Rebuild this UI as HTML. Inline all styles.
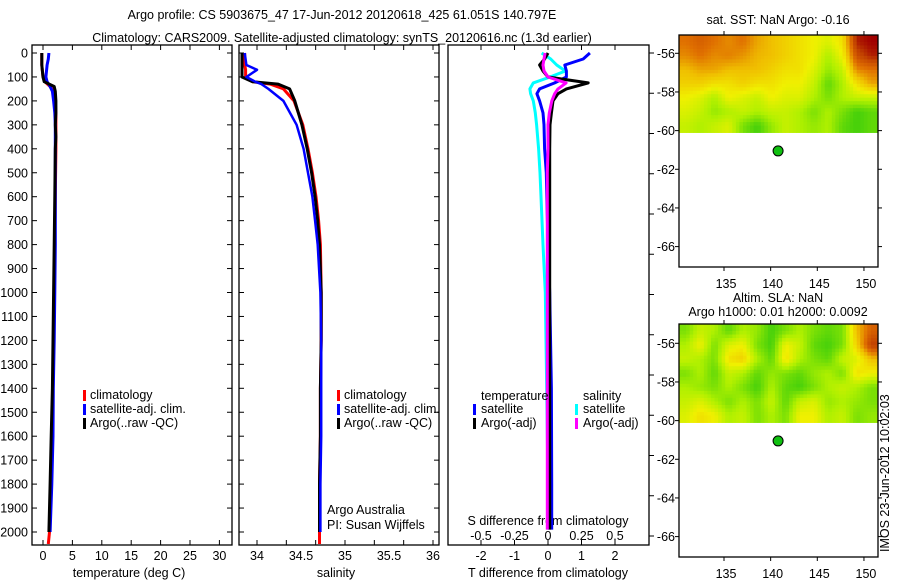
<!DOCTYPE html>
<html><head><meta charset="utf-8"><style>
body{margin:0;background:#fff;}
svg{display:block;font-family:"Liberation Sans",sans-serif;}
text{font-size:12.5px;fill:#000;}
</style></head><body>
<svg id="c" width="900" height="580" viewBox="0 0 900 580" xmlns="http://www.w3.org/2000/svg">
<text x="342" y="19" text-anchor="middle">Argo profile: CS 5903675_47 17-Jun-2012 20120618_425 61.051S 140.797E</text>
<text x="342" y="42" text-anchor="middle">Climatology: CARS2009. Satellite-adjusted climatology: synTS_20120616.nc (1.3d earlier)</text>
</svg>
<script>
// ---- data ----
const tDepth=[0,25,50,75,100,120,140,160,200,250,300,350,400,600,800,1000,1200,1400,1600,1800,2000,2050];
const tClim=[-0.2,-0.2,-0.2,-0.1,0.0,0.3,1.2,1.8,2.1,2.2,2.2,2.2,2.2,2.1,2.0,1.9,1.8,1.7,1.5,1.3,1.1,0.9];
const tSat=[1.0,0.9,0.7,0.6,0.5,0.7,1.2,1.6,1.8,2.0,2.1,2.1,2.1,2.1,2.1,2.0,1.9,1.75,1.7,1.5,1.2,null];
const tArgo=[-0.2,-0.2,-0.2,-0.1,0.0,0.2,1.9,2.1,2.2,2.2,2.1,2.2,2.1,2.0,1.9,1.8,1.7,1.6,1.4,1.2,1.0,null];
const sDepth=[0,50,70,100,120,130,150,200,300,400,500,600,700,800,1000,1200,1400,1600,1800,2000,2050];
const sClim=[33.86,33.86,33.87,33.87,33.95,34.15,34.30,34.42,34.52,34.58,34.63,34.67,34.70,34.72,34.73,34.73,34.72,34.72,34.71,34.71,34.71];
const sSat=[33.86,33.88,34.00,33.88,33.98,34.05,34.13,34.30,34.45,34.53,34.58,34.63,34.66,34.69,34.72,34.73,34.73,34.73,34.72,34.72,null];
const sArgo=[33.83,33.83,33.83,33.83,33.95,34.24,34.37,34.43,34.51,34.57,34.62,34.66,34.69,34.71,34.73,34.73,34.72,34.72,34.71,34.71,null];
const dDepth=[0,25,50,75,100,125,150,170,200,250,300,400,500,800,1000,1400,1800,1990];
const dTSat=[1.25,1.05,0.5,0.55,0.55,0.2,-0.25,-0.33,-0.25,-0.15,-0.12,-0.1,-0.05,0.0,0.05,0.1,0.11,0.11];
const dTArgo=[0.0,-0.1,-0.25,-0.15,0.0,1.2,0.55,0.3,0.15,0.1,0.06,0.05,0.05,0.05,0.05,0.05,0.05,0.05];
const dSSat=[-0.047,0.02,0.065,0.13,0.015,-0.11,-0.135,-0.13,-0.11,-0.095,-0.085,-0.07,-0.06,-0.037,-0.02,-0.01,0.0,0.0];
const dSArgo=[-0.022,-0.03,-0.037,-0.03,0.0,0.135,0.075,0.05,0.028,0.01,0.0,0.0,-0.005,-0.005,-0.005,-0.005,-0.005,-0.005];
const depthTicks=[0,100,200,300,400,500,600,700,800,900,1000,1100,1200,1300,1400,1500,1600,1700,1800,1900,2000];
const tTicks=[0,5,10,15,20,25,30];
const sTickLabels=[34,34.5,35,35.5,36];
const dTTicks=[-2,-1,0,1,2];
const dSTicks=[-0.5,-0.25,0,0.25,0.5];
const dSTickLabels=['-0.5','-0.25','0','0.25','0.5'];
const latTicks=[-56,-58,-60,-62,-64,-66];
const lonTicks=[135,140,145,150];
const sstGrid=[
[.75,.8,.75,.7,.75,.65,.6,.55,.5,.45,.4,.5,.95,1],
[.7,.75,.7,.72,.68,.62,.6,.55,.5,.45,.3,.45,.85,.95],
[.6,.65,.65,.6,.6,.6,.55,.5,.5,.4,.25,.35,.7,.75],
[.55,.55,.5,.5,.55,.5,.5,.45,.45,.35,.15,.3,.5,.65],
[.45,.4,.3,.45,.4,.35,.45,.4,.4,.3,.2,.3,.35,.35],
[.4,.35,.25,.3,.35,.3,.35,.35,.3,.2,.3,.2,.1,.15],
[.35,.3,.35,.4,.2,.1,.25,.35,.3,.25,.3,.15,.1,.15]];
const slaGrid=[
[.2,.35,.3,.15,.3,.25,.1,.2,.3,.2,.15,.2,.6,.8],
[.3,.45,.2,.4,.45,.2,.1,.45,.35,.15,.1,.2,.55,.9],
[.35,.3,.2,.5,.55,.3,.15,.5,.3,.2,.15,.35,.4,.6],
[.2,.3,.15,.35,.3,.15,.25,.2,.15,.25,.3,.2,.5,.45],
[.3,.25,.2,.3,.2,.1,.3,.15,.1,.2,.3,.35,.3,.2],
[.35,.4,.3,.2,.3,.2,.35,.15,.35,.4,.25,.3,.25,.2],
[.4,.5,.45,.3,.35,.2,.3,.2,.45,.45,.3,.35,.2,.25]];
const floatLon=140.797, floatLat=-61.051;

// ---- helpers ----
const NS="http://www.w3.org/2000/svg", svg=document.getElementById('c');
function el(tag,attrs,txt){const e=document.createElementNS(NS,tag);for(const k in attrs)e.setAttribute(k,attrs[k]);if(txt!==undefined)e.textContent=txt;svg.appendChild(e);return e;}
const Y=d=>53+d*0.2395;
const XT=v=>43+v*5.88, XS=v=>257+(v-34)*88, XD=v=>548+v*33.5, XDS=v=>548+v*134;

function frame(x0,x1,y0,y1,name){const r=el('rect',{x:x0,y:y0,width:x1-x0,height:y1-y0,fill:'none',stroke:'#000','stroke-width':1.3});

}
function line(xs,ys,fx,color,w,name){let p='';let started=false;
for(let i=0;i<xs.length;i++){if(xs[i]===null)continue;p+=(started?'L':'M')+fx(xs[i]).toFixed(1)+' '+Y(ys[i]).toFixed(1);started=true;}
const e=el('path',{d:p,fill:'none',stroke:color,'stroke-width':w,'stroke-linejoin':'round'});

}
function txt(x,y,s,name,anchor){const e=el('text',{x:x,y:y,'text-anchor':anchor||'start'},s);

return e;}
function mark(x,y,c,name){const e=el('rect',{x:x,y:y-9,width:3,height:11,fill:c});

}

// maps first (behind)
function cmap(v){const stops=[[0,[16,192,16]],[.3,[176,240,0]],[.45,[240,240,0]],[.6,[240,192,0]],[.75,[224,112,0]],[.9,[192,64,0]],[1,[160,0,0]]];
 v=Math.max(0,Math.min(1,v));
 for(let i=1;i<stops.length;i++){if(v<=stops[i][0]){const a=stops[i-1],b=stops[i],t=(v-a[0])/(b[0]-a[0]);
 return 'rgb('+a[1].map((c,j)=>Math.round(c+(b[1][j]-c)*t)).join(',')+')';}}return 'rgb(160,0,0)';}
function sample(grid,fr,fc){const R=grid.length-1,C=grid[0].length-1;
 const r=Math.max(0,Math.min(R,fr)),c=Math.max(0,Math.min(C,fc));
 const r0=Math.floor(r),c0=Math.floor(c),r1=Math.min(R,r0+1),c1=Math.min(C,c0+1),tr=r-r0,tc=c-c0;
 return grid[r0][c0]*(1-tr)*(1-tc)+grid[r0][c1]*(1-tr)*tc+grid[r1][c0]*tr*(1-tc)+grid[r1][c1]*tr*tc;}
function map(y0,y1,yLat56,grid,titles,name){
 const x0=679,x1=878,LY=v=>yLat56+(-56-v)*19.33,LX=v=>724+(v-135)*9.33;
 const yb=LY(-60.1);
 const rows=grid.length, cols=grid[0].length, up=4;
 const nr=rows*up, nc=cols*up, cw=(x1-x0)/nc, ch=(yb-y0)/nr;
 for(let r=0;r<nr;r++)for(let c=0;c<nc;c++){
  const v=sample(grid,(r+0.5)/up-0.5,(c+0.5)/up-0.5);
  const e=el('rect',{x:(x0+c*cw).toFixed(2),y:(y0+r*ch).toFixed(2),width:(cw+0.4).toFixed(2),height:(ch+0.4).toFixed(2),fill:cmap(v)});
  
  }
 frame(x0,x1,y0,y1,name+'-frame');
 latTicks.forEach(v=>{const y=LY(v);el('line',{x1:x0,x2:x0-4,y1:y,y2:y,stroke:'#000'});el('line',{x1:x1,x2:x1+4,y1:y,y2:y,stroke:'#000'});
  txt(675,y+4.5,String(v),name+'-lat-label','end');});
 lonTicks.forEach(v=>{const x=LX(v);el('line',{x1:x,x2:x,y1:y1,y2:y1+4,stroke:'#000'});el('line',{x1:x,x2:x,y1:y0,y2:y0-4,stroke:'#000'});
  txt(x+2,y1+21,String(v),name+'-lon-label','middle');});
 const d=el('circle',{cx:LX(floatLon),cy:LY(floatLat),r:5,fill:'#10c010',stroke:'#000','stroke-width':1});
 
 
 titles.forEach(t=>txt(778,t[1],t[0],name+'-title','middle'));
}
map(35,267,53.3,sstGrid,[['sat. SST: NaN Argo: -0.16',24]],'sst-map');
map(324,557,343.3,slaGrid,[['Altim. SLA: NaN',302],['Argo h1000: 0.01 h2000: 0.0092',316]],'sla-map');

// panel frames
frame(32,232,45,545,'temperature-panel');
frame(239,439,45,545,'salinity-panel');
frame(448,649,45,545,'difference-panel');

// depth ticks & labels
depthTicks.forEach(d=>{const y=Y(d);
 txt(28,y+4.5,String(d),'depth-tick-label','end');
 [[32,37],[227,232],[239,244],[434,439]].forEach(a=>el('line',{x1:a[0],x2:a[1],y1:y,y2:y,stroke:'#000'}));
});
// temperature axis
tTicks.forEach(v=>{const x=XT(v);el('line',{x1:x,x2:x,y1:540,y2:545,stroke:'#000'});el('line',{x1:x,x2:x,y1:45,y2:50,stroke:'#000'});
 txt(x,560,String(v),'temperature-tick-label','middle');});
txt(129,577,'temperature (deg C)','x-axis-title-temperature','middle');
// salinity axis
for(let k=0;k<7;k++){const x=XS(34+k/3);el('line',{x1:x,x2:x,y1:540,y2:545,stroke:'#000'});el('line',{x1:x,x2:x,y1:45,y2:50,stroke:'#000'});}
sTickLabels.forEach(v=>txt(XS(v),560,String(v),'salinity-tick-label','middle'));
txt(336,577,'salinity','x-axis-title-salinity','middle');
// difference axes
dTTicks.forEach(v=>{const x=XD(v);el('line',{x1:x,x2:x,y1:540,y2:545,stroke:'#000'});el('line',{x1:x,x2:x,y1:45,y2:50,stroke:'#000'});
 txt(x,560,String(v),'t-diff-tick-label','middle');});
dSTicks.forEach((v,i)=>txt(XDS(v),540,dSTickLabels[i],'s-diff-tick-label','middle'));
txt(548,525,'S difference from climatology','s-diff-axis-title','middle');
txt(548,577,'T difference from climatology','t-diff-axis-title','middle');
for(let k=0;k<13;k++){const y=53+k*40.25;el('line',{x1:649,x2:654,y1:y,y2:y,stroke:'#000'});}

// series
line(tClim,tDepth,XT,'#f00',3,'temperature-climatology-line');
line(tSat,tDepth,XT,'#00f',3,'temperature-satellite-line');
line(tArgo,tDepth,XT,'#000',3,'temperature-argo-line');
line(sClim,sDepth,XS,'#f00',3,'salinity-climatology-line');
line(sArgo,sDepth,XS,'#000',3,'salinity-argo-line');
line(sSat,sDepth,XS,'#00f',2.5,'salinity-satellite-line');
line(dSSat,dDepth,XDS,'#0ff',3,'s-diff-satellite-line');
line(dTSat,dDepth,XD,'#00f',3,'t-diff-satellite-line');
line(dTArgo,dDepth,XD,'#000',3,'t-diff-argo-line');
line(dSArgo,dDepth,XDS,'#f0f',3,'s-diff-argo-line');

// legends
[[399,'#f00','climatology'],[413,'#00f','satellite-adj. clim.'],[427,'#000','Argo(..raw -QC)']].forEach(a=>{
 mark(83,a[0],a[1],'legend-marker-temperature');txt(90,a[0],a[2],'legend-entry-temperature');
 mark(337,a[0],a[1],'legend-marker-salinity');txt(344,a[0],a[2],'legend-entry-salinity');});
txt(327,514,'Argo Australia','credit-argo-australia');
txt(327,529,'PI: Susan Wijffels','credit-pi');
txt(481,400,'temperature','legend-title-temperature');
txt(583,400,'salinity','legend-title-salinity');
mark(473,413,'#00f','legend-marker-t-sat');txt(481,413,'satellite','legend-entry-t-sat');
mark(473,427,'#000','legend-marker-t-argo');txt(481,427,'Argo(-adj)','legend-entry-t-argo');
mark(575,413,'#0ff','legend-marker-s-sat');txt(583,413,'satellite','legend-entry-s-sat');
mark(575,427,'#f0f','legend-marker-s-argo');txt(583,427,'Argo(-adj)','legend-entry-s-argo');

const v=txt(0,0,'IMOS 23-Jun-2012 10:02:03','imos-timestamp');
v.setAttribute('transform','translate(889,552) rotate(-90)');
</script>
</body></html>
